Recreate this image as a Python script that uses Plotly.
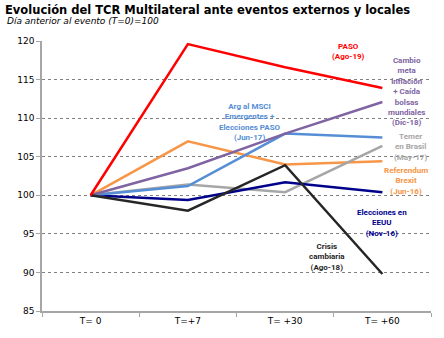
import plotly.graph_objects as go

categories = ["T= 0", "T=+7", "T= +30", "T= +60"]
paso = [100, 119.6, 116.6, 113.9]
cambio_meta = [100, 103.5, 108.0, 112.1]
msci = [100, 101.2, 108.0, 107.5]
temer = [100, 101.4, 100.4, 106.4]
brexit = [100, 107.0, 104.0, 104.4]
eeuu = [100, 99.4, 101.7, 100.4]
crisis = [100, 98.0, 103.9, 89.8]

series = [
    ("Referendum Brexit", brexit, "#F79646"),
    ("Temer en Brasil", temer, "#A6A6A6"),
    ("Elecciones EEUU", eeuu, "#00008B"),
    ("Arg al MSCI", msci, "#558ED5"),
    ("Cambio meta", cambio_meta, "#8064A2"),
    ("Crisis cambiaria", crisis, "#262626"),
    ("PASO", paso, "#FF0000"),
]

fig = go.Figure()
for name, vals, col in series:
    fig.add_trace(go.Scatter(x=categories, y=vals, mode="lines", name=name,
                             line=dict(color=col, width=2.5)))

lab_font = "Roboto, Open Sans, sans-serif"
labels = [
    ("<b>PASO<br>(Ago-19)</b>", 2.65, 118.6, "#FF0000"),
    ("<b>Cambio<br>meta<br>inflación<br>+ Caída<br>bolsas<br>mundiales<br>(Dic-18)</b>", 3.25, 113.4, "#8064A2"),
    ("<b>Arg al MSCI<br>Emergentes +<br>Elecciones PASO<br>(Jun-17)</b>", 1.64, 109.5, "#558ED5"),
    ("<b>Temer<br>en Brasil<br>(May-17)</b>", 3.29, 106.3, "#A6A6A6"),
    ("<b>Referendum<br>Brexit<br>(Jun-16)</b>", 3.24, 101.9, "#F79646"),
    ("<b>Elecciones en<br>EEUU<br>(Nov-16)</b>", 3.0, 96.4, "#00008B"),
    ("<b>Crisis<br>cambiaria<br>(Ago-18)</b>", 2.43, 92.0, "#262626"),
]
for txt, xx, yy, col in labels:
    fig.add_annotation(x=xx, y=yy, xref="x", yref="y", text=txt, showarrow=False,
                       font=dict(family=lab_font, size=8, color=col), align="center")

fig.add_annotation(x=(5 - 42) / 389, y=1 + (41 - 21) / 270, xref="paper", yref="paper",
                   xanchor="left", yanchor="middle",
                   text="<i>Día anterior al evento (T=0)=100</i>",
                   showarrow=False, font=dict(family="DejaVu Sans, sans-serif", size=9, color="#000000"))

fig.update_layout(
    width=444, height=338,
    margin=dict(l=42, r=13, t=41, b=27),
    paper_bgcolor="white", plot_bgcolor="white",
    showlegend=False,
    font=dict(family="DejaVu Sans, sans-serif", size=9, color="#000000"),
    title=dict(text="<b>Evolución del TCR Multilateral ante eventos externos y locales</b>",
               xref="container", yref="container", x=5 / 444, xanchor="left",
               y=1 - 10 / 338, yanchor="middle",
               font=dict(family="DejaVu Sans, sans-serif", size=11.5, color="#000000")),
)
fig.update_xaxes(type="category", range=[-0.5, 3.5], showline=True, linecolor="#A6A6A6",
                 linewidth=1.5, ticks="outside", tickson="boundaries", ticklen=4,
                 tickcolor="#A6A6A6", showgrid=False, tickfont=dict(size=9))
fig.update_yaxes(range=[85, 120], dtick=5, showline=True, linecolor="#A6A6A6", linewidth=1.5,
                 ticks="outside", ticklen=4, tickcolor="#A6A6A6", showgrid=True,
                 gridcolor="#808080", griddash="dot", gridwidth=1, zeroline=False,
                 tickfont=dict(size=9))

fig.write_html("out.html")
